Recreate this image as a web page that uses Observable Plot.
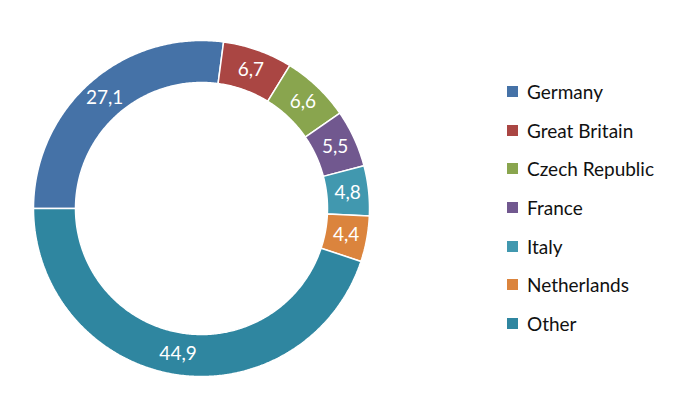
<!DOCTYPE html>
<html>
<head>
<meta charset="utf-8">
<script src="https://cdn.jsdelivr.net/npm/d3@7"></script>
<script src="https://cdn.jsdelivr.net/npm/@observablehq/plot@0.6"></script>
<style>
  html, body { margin: 0; padding: 0; background: #fff; }
  #wrap { position: relative; width: 700px; height: 406px; font-family: Lato, "Open Sans", sans-serif; }
  #legend { position: absolute; left: 507px; top: 72px; }
  .item { display: flex; align-items: center; height: 38.7px; font-size: 19px; color: #111; }
  .sw { width: 11px; height: 11px; margin-right: 9px; }
</style>
</head>
<body>
<div id="wrap"><div id="legend"></div></div>
<script>
const categories = ["Germany", "Great Britain", "Czech Republic", "France", "Italy", "Netherlands", "Other"];
const values = [27.1, 6.7, 6.6, 5.5, 4.8, 4.4, 44.9];
const colors = ["#4572A7", "#AA4643", "#89A54E", "#71588F", "#4198AF", "#DB843D", "#2F86A0"];
const valueLabels = ["27,1", "6,7", "6,6", "5,5", "4,8", "4,4", "44,9"];

const innerRatio = 0.75;
const startAngle = -Math.PI / 2; // first slice starts at 9 o'clock

const pie = d3.pie().sort(null).value(d => d.value)
  .startAngle(startAngle).endAngle(startAngle + 2 * Math.PI);
const rows = categories.map((c, i) => ({category: c, value: values[i], label: valueLabels[i]}));
const arcs = pie(rows);

// polygon points for each slice, in unit data space
const polyPts = [];
arcs.forEach(a => {
  const n = Math.max(8, Math.ceil((a.endAngle - a.startAngle) / 0.01));
  for (let k = 0; k <= n; k++) {
    const t = a.startAngle + (a.endAngle - a.startAngle) * k / n;
    polyPts.push({category: a.data.category, x: Math.sin(t), y: Math.cos(t)});
  }
  for (let k = n; k >= 0; k--) {
    const t = a.startAngle + (a.endAngle - a.startAngle) * k / n;
    polyPts.push({category: a.data.category, x: innerRatio * Math.sin(t), y: innerRatio * Math.cos(t)});
  }
});
const labelPts = arcs.map(a => {
  const m = (a.startAngle + a.endAngle) / 2;
  const r = (1 + innerRatio) / 2;
  return {label: a.data.label, x: r * Math.sin(m), y: r * Math.cos(m)};
});

const cx = 201, cy = 208, R = 168;
const chart = Plot.plot({
  width: 700,
  height: 406,
  margin: 0,
  style: {background: "#fff", fontFamily: "Lato, 'Open Sans', sans-serif"},
  x: {domain: [-1, 1], range: [cx - R, cx + R], axis: null},
  y: {domain: [-1, 1], range: [cy + R, cy - R], axis: null},
  color: {domain: categories, range: colors},
  marks: [
    Plot.line(polyPts, {x: "x", y: "y", z: "category", fill: "category", stroke: "#fff", strokeWidth: 1.5, curve: "linear-closed", strokeLinejoin: "miter"}),
    Plot.text(labelPts, {x: "x", y: "y", text: "label", fill: "#fff", fontSize: 19})
  ]
});
document.getElementById("wrap").prepend(chart);

const legend = document.getElementById("legend");
categories.forEach((c, i) => {
  const it = document.createElement("div");
  it.className = "item";
  const sw = document.createElement("div");
  sw.className = "sw";
  sw.style.background = colors[i];
  const tx = document.createElement("span");
  tx.textContent = c;
  it.appendChild(sw);
  it.appendChild(tx);
  legend.appendChild(it);
});
</script>
</body>
</html>
